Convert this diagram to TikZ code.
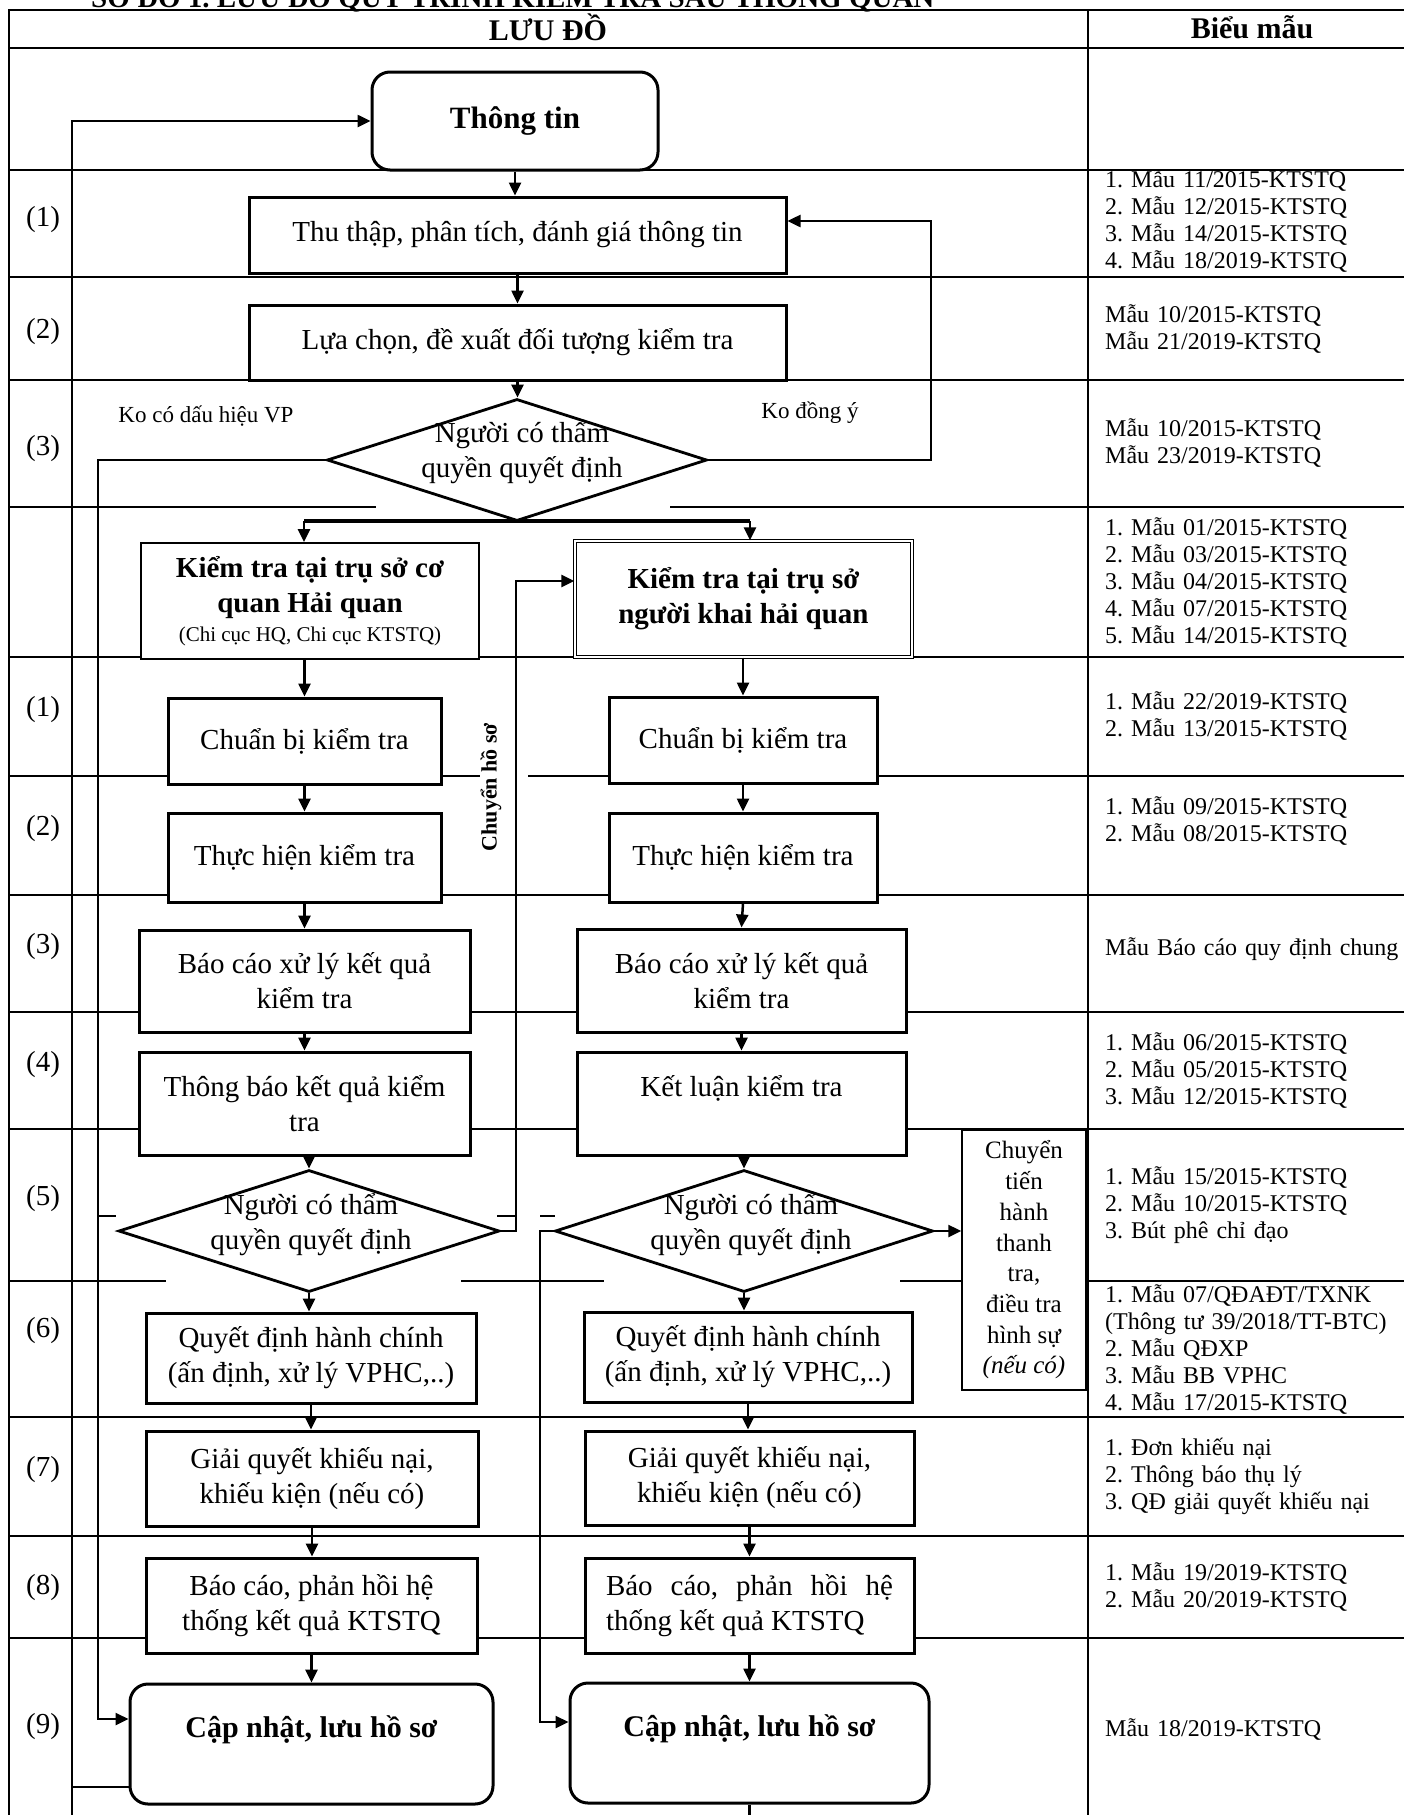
\documentclass[tikz,border=0pt]{standalone}
\usepackage{fontspec}
\setmainfont{Liberation Serif}
\usetikzlibrary{arrows.meta,shapes.geometric}
\begin{document}
\frenchspacing
\begin{tikzpicture}[x=1pt,y=-1pt,
 tbl/.style={line width=1.6pt},
 conn/.style={line width=2.5pt},
 arr/.style={conn,-{Triangle[length=13pt,width=12pt]}},
 box/.style={draw,line width=3pt,fill=white,inner sep=0pt,align=center,font=\fontsize{29}{35}\selectfont},
 thinbox/.style={box,line width=1.8pt},
 rbox/.style={box,rounded corners=18pt},
 dia/.style={draw,diamond,line width=2.8pt,fill=white,inner sep=0pt,minimum width=380pt,minimum height=122pt},
 lbl/.style={inner sep=0pt,font=\fontsize{29}{35}\selectfont},
 small/.style={inner sep=0pt,font=\fontsize{23}{27}\selectfont},
 bm/.style={anchor=base west,inner sep=0pt,text width=310pt,align=left,font=\fontsize{24}{27}\selectfont},
 hdr/.style={inner sep=0pt,font=\bfseries\fontsize{30}{36}\selectfont},
]
\useasboundingbox (0,0) rectangle (1404,1815);
\clip (0,0) rectangle (1404,1815);

% title (cut at the top edge, as in the reference)
\node[anchor=base west,inner sep=0pt,font=\bfseries\fontsize{29}{30}\selectfont] (title) at (91,7) {SƠ ĐỒ 1. LƯU ĐỒ QUY TRÌNH KIỂM TRA SAU THÔNG QUAN};

% table
\draw[tbl] (9,1815) -- (9,10) -- (1404,10);
\draw[tbl] (1088,10) -- (1088,1815);
\foreach \y in {48,170,277,380,657,895,1012,1129,1417,1536,1638} \draw[tbl] (9,\y) -- (1404,\y);
\draw[tbl] (9,507) -- (376,507) (670,507) -- (1404,507);
\draw[tbl] (9,776) -- (483,776) (528,776) -- (1404,776);
\draw[tbl] (9,1281) -- (166,1281) (461,1281) -- (604,1281) (900,1281) -- (962,1281) (1088,1281) -- (1404,1281);
\draw[tbl] (98,1216) -- (116,1216) (497,1216) -- (516,1216) (540,1216) -- (555,1216);

% headers
\node[hdr] (hLuu) at (548,27) {LƯU ĐỒ};
\node[hdr] (hBieu) at (1252,27) {Biểu mẫu};

% row labels
\foreach \y/\t [count=\i] in {220/1,332/2,449/3,710/1,829/2,947/3,1065/4,1199/5,1331/6,1470/7,1588/8,1727/9}
  \node[lbl] (r\i) at (43,\y) {(\t)};

% flow boxes
\node[rbox,minimum width=286pt,minimum height=98pt,font=\bfseries\fontsize{31}{36}\selectfont] (tt) at (515,121) {Thông tin};
\node[box,minimum width=537pt,minimum height=76pt] (thu) at (517.5,235) {Thu thập, phân tích, đánh giá thông tin};
\node[box,minimum width=537pt,minimum height=75pt] (lua) at (517.5,342.5) {Lựa chọn, đề xuất đối tượng kiểm tra};
\node[dia] (d3) at (517,460) {};
\node[lbl,align=center] (d3t) at (522,453) {Người có thẩm\\quyền quyết định};

\node[thinbox,minimum width=338pt,minimum height=116pt] (kt1) at (310,601) {\textbf{Kiểm tra tại trụ sở cơ}\\\textbf{quan Hải quan}\\[-6pt]{\fontsize{21}{25}\selectfont(Chi cục HQ, Chi cục KTSTQ)}};
\node[box,line width=1.2pt,double,double distance=2.5pt,minimum width=337pt,minimum height=116pt] (kt2) at (743.5,599) {\textbf{Kiểm tra tại trụ sở}\\\textbf{người khai hải quan}};

\node[box,minimum width=273pt,minimum height=86pt] (cb1) at (304.5,741) {Chuẩn bị kiểm tra};
\node[box,minimum width=268pt,minimum height=86pt] (cb2) at (743,740) {Chuẩn bị kiểm tra};
\node[box,minimum width=273pt,minimum height=89pt] (th1) at (304.5,857.5) {Thực hiện kiểm tra};
\node[box,minimum width=268pt,minimum height=89pt] (th2) at (743,857.5) {Thực hiện kiểm tra};
\node[box,minimum width=331pt,minimum height=102pt] (bc1) at (304.5,981) {Báo cáo xử lý kết quả\\kiểm tra};
\node[box,minimum width=329pt,minimum height=103pt] (bc2) at (741.5,980.5) {Báo cáo xử lý kết quả\\kiểm tra};
\node[box,minimum width=331pt,minimum height=103pt] (tb1) at (304.5,1103.5) {Thông báo kết quả kiểm\\tra};
\node[box,minimum width=329pt,minimum height=103pt] (kl2) at (741.5,1103.5) {Kết luận kiểm tra\\\mbox{}};

\node[dia,minimum width=381pt] (d5L) at (309,1231) {};
\node[lbl,align=center] (d5Lt) at (311,1225) {Người có thẩm\\quyền quyết định};
\node[dia,minimum width=378pt] (d5R) at (744,1231) {};
\node[lbl,align=center] (d5Rt) at (751,1225) {Người có thẩm\\quyền quyết định};

\node[thinbox,line width=1.5pt,minimum width=124pt,minimum height=260pt,font=\fontsize{25}{30.7}\selectfont] (ct) at (1024,1260) {Chuyển\\tiến\\hành\\thanh\\tra,\\điều tra\\hình sự\\\textit{(nếu có)}};

\node[box,minimum width=330pt,minimum height=90pt] (qd1) at (311,1358) {Quyết định hành chính\\(ấn định, xử lý VPHC,..)};
\node[box,minimum width=328pt,minimum height=90pt] (qd2) at (748,1357) {Quyết định hành chính\\(ấn định, xử lý VPHC,..)};
\node[box,minimum width=332pt,minimum height=95pt] (gq1) at (312,1478.5) {Giải quyết khiếu nại,\\khiếu kiện (nếu có)};
\node[box,minimum width=329pt,minimum height=94pt] (gq2) at (749.5,1478) {Giải quyết khiếu nại,\\khiếu kiện (nếu có)};
\node[box,minimum width=331pt,minimum height=95pt] (ph1) at (311.5,1605.5) {Báo cáo, phản hồi hệ\\thống kết quả KTSTQ};
\node[box,minimum width=329pt,minimum height=95pt,text width=287pt,align=justify] (ph2) at (749.5,1605.5) {\hyphenpenalty=10000 Báo cáo, phản hồi hệ thống kết quả KTSTQ};
\node[rbox,minimum width=363pt,minimum height=120pt,font=\bfseries\fontsize{30}{35}\selectfont] (cn1) at (311.5,1744) {Cập nhật, lưu hồ sơ\\\mbox{}};
\node[rbox,minimum width=359pt,minimum height=120pt,font=\bfseries\fontsize{30}{35}\selectfont] (cn2) at (749.5,1743) {Cập nhật, lưu hồ sơ\\\mbox{}};

% labels
\node[small] (lbVP) at (206,416) {Ko có dấu hiệu VP};
\node[small] (lbKo) at (810,413) {Ko đồng ý};
\node[inner sep=1pt,fill=white,rotate=90,font=\bfseries\fontsize{22}{26}\selectfont] (lbCh) at (491,787) {Chuyển hồ sơ};

% connectors
\draw[arr] (72,1815) |- (tt.west);
\draw[conn] (cn1.west |- 0,1787) -- (72,1787);
\draw[arr] (tt.south) -- (tt.south |- thu.north);
\draw[arr] (thu.south) -- (thu.south |- lua.north);
\draw[arr] (lua.south) -- (lua.south |- d3.north);
\draw[arr] (d3.east) -- (931,460) |- (thu.east |- 0,221);
\draw[arr] (d3.west) -- (98,460) |- (cn1.west |- 0,1719);
\coordinate (brL) at (304,521);
\coordinate (brR) at (750,521);
\draw[line width=4pt] (brL) -- (brR);
\draw[arr] (brL) -- (brL |- kt1.north);
\draw[arr] (brR) -- (brR |- kt2.north);
\draw[arr] (cb1.north |- kt1.south) -- (cb1.north);
\draw[arr] (cb2.north |- kt2.south) -- (cb2.north);
\draw[arr] (cb1.south) -- (th1.north);
\draw[arr] (cb2.south) -- (th2.north);
\draw[arr] (th1.south) -- (bc1.north);
\draw[arr] (th2.south) -- (bc2.north);
\draw[arr] (bc1.south) -- (tb1.north);
\draw[arr] (bc2.south) -- (kl2.north);
\draw[arr] (d5L.north |- tb1.south) -- (d5L.north);
\draw[arr] (d5R.north |- kl2.south) -- (d5R.north);
\draw[arr] (d5L.south) -- (d5L.south |- qd1.north);
\draw[arr] (d5R.south) -- (d5R.south |- qd2.north);
\draw[arr] (qd1.south) -- (qd1.south |- gq1.north);
\draw[arr] (qd2.south) -- (qd2.south |- gq2.north);
\draw[arr] (gq1.south) -- (gq1.south |- ph1.north);
\draw[arr] (gq2.south) -- (gq2.south |- ph2.north);
\draw[arr] (ph1.south) -- (ph1.south |- cn1.north);
\draw[arr] (ph2.south) -- (ph2.south |- cn2.north);
\draw[arr] (d5L.east) -- (516,1231) |- (kt2.west |- 0,581);
\draw[arr] (d5R.west) -- (540,1231) |- (cn2.west |- 0,1722);
\draw[arr] (d5R.east) -- (d5R.east -| ct.west);
\draw[conn] (cn2.south) -- (cn2.south |- 0,1815);

% Bieu mau column
\node[bm] (b1) at (1105,187) {1. Mẫu 11/2015-KTSTQ\\2. Mẫu 12/2015-KTSTQ\\3. Mẫu 14/2015-KTSTQ\\4. Mẫu 18/2019-KTSTQ};
\node[bm] (b2) at (1105,322) {Mẫu 10/2015-KTSTQ\\Mẫu 21/2019-KTSTQ};
\node[bm] (b3) at (1105,436) {Mẫu 10/2015-KTSTQ\\Mẫu 23/2019-KTSTQ};
\node[bm] (b4) at (1105,535) {1. Mẫu 01/2015-KTSTQ\\2. Mẫu 03/2015-KTSTQ\\3. Mẫu 04/2015-KTSTQ\\4. Mẫu 07/2015-KTSTQ\\5. Mẫu 14/2015-KTSTQ};
\node[bm] (b5) at (1105,709) {1. Mẫu 22/2019-KTSTQ\\2. Mẫu 13/2015-KTSTQ};
\node[bm] (b6) at (1105,814) {1. Mẫu 09/2015-KTSTQ\\2. Mẫu 08/2015-KTSTQ};
\node[bm] (b7) at (1105,955) {Mẫu Báo cáo quy định chung};
\node[bm] (b8) at (1105,1050) {1. Mẫu 06/2015-KTSTQ\\2. Mẫu 05/2015-KTSTQ\\3. Mẫu 12/2015-KTSTQ};
\node[bm] (b9) at (1105,1184) {1. Mẫu 15/2015-KTSTQ\\2. Mẫu 10/2015-KTSTQ\\3. Bút phê chỉ đạo};
\node[bm] (b10) at (1105,1302) {1. Mẫu 07/QĐAĐT/TXNK\\(Thông tư 39/2018/TT-BTC)\\2. Mẫu QĐXP\\3. Mẫu BB VPHC\\4. Mẫu 17/2015-KTSTQ};
\node[bm] (b11) at (1105,1455) {1. Đơn khiếu nại\\2. Thông báo thụ lý\\3. QĐ giải quyết khiếu nại};
\node[bm] (b12) at (1105,1580) {1. Mẫu 19/2019-KTSTQ\\2. Mẫu 20/2019-KTSTQ};
\node[bm] (b13) at (1105,1736) {Mẫu 18/2019-KTSTQ};
\end{tikzpicture}
\end{document}
